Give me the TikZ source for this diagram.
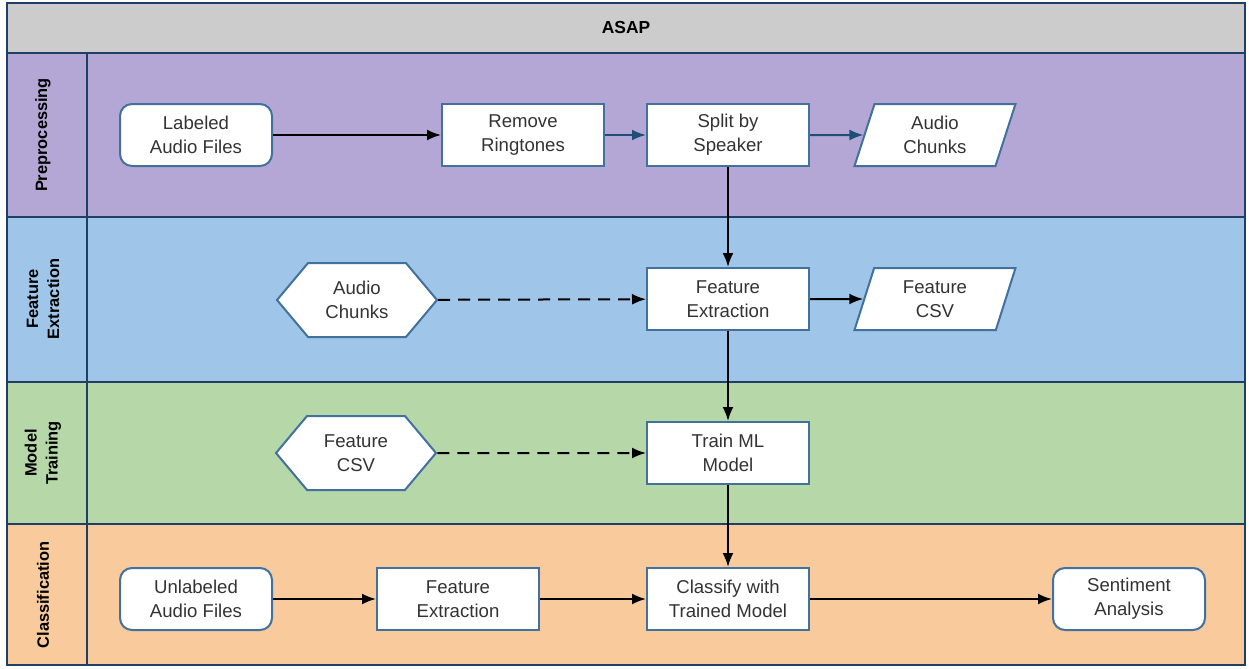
\documentclass[tikz,border=0pt]{standalone}
\usepackage{fontspec}
\setmainfont{Liberation Sans}
\usetikzlibrary{arrows.meta, shapes.geometric, shapes.symbols}

\definecolor{laneline}{HTML}{1F3F66}
\definecolor{nodeline}{HTML}{41719C}
\definecolor{title}{HTML}{CCCCCC}
\definecolor{prep}{HTML}{B4A7D6}
\definecolor{feat}{HTML}{9FC5E8}
\definecolor{train}{HTML}{B6D7A8}
\definecolor{clas}{HTML}{F9CB9C}
\definecolor{bluearrow}{HTML}{1F4E79}
\definecolor{txt}{HTML}{333333}

\begin{document}
\begin{tikzpicture}[x=0.5pt,y=-0.5pt,
    every node/.style={font=\fontsize{9.3}{12}\selectfont, text=txt},
    lane/.style={draw=laneline, line width=1pt},
    lanelabel/.style={rotate=90, align=center, text=black,
      font=\fontsize{8.2}{10.5}\selectfont\bfseries},
    proc/.style={draw=nodeline, line width=1pt, fill=white, align=center,
      minimum width=81pt, minimum height=31pt, inner sep=0pt},
    term/.style={proc, rounded corners=6pt, minimum width=76pt},
    data/.style={proc, trapezium, trapezium left angle=62,
      trapezium right angle=118, trapezium stretches body,
      minimum width=80.5pt},
    hexa/.style={proc, signal, signal to=west and east,
      signal pointer angle=100, minimum width=80pt, minimum height=37pt},
    flow/.style={line width=1pt, -{Latex[length=7pt,width=5.5pt]}},
    flowb/.style={flow, draw=bluearrow},
    dflow/.style={flow, dash pattern=on 6pt off 4pt}]
    \useasboundingbox (0,0) rectangle (1249,669);
    % swim lanes
    \draw[lane, fill=title] (7,3) rectangle (1245,53);
    \draw[lane, fill=prep] (7,53) rectangle (1245,217);
    \draw[lane, fill=feat] (7,217) rectangle (1245,382);
    \draw[lane, fill=train] (7,382) rectangle (1245,524);
    \draw[lane, fill=clas] (7,524) rectangle (1245,665);
    \draw[lane] (87,53) -- (87,665);
    \node[text=black, font=\fontsize{8.7}{10}\selectfont\bfseries] (asap) at (626,28) {ASAP};
    \node[lanelabel] (lprep) at (43,135) {Preprocessing};
    \node[lanelabel] (lfeat) at (43,299) {Feature\\Extraction};
    \node[lanelabel] (ltrain) at (43,453) {Model\\Training};
    \node[lanelabel] (lclas) at (43,595) {Classification};

    % preprocessing
    \node[term] (labeled) at (196,135) {Labeled\\Audio Files};
    \node[proc] (ringtones) at (523,135) {Remove\\Ringtones};
    \node[proc] (split) at (728,135) {Split by\\Speaker};
    \node[data] (chunks) at (935,135) {Audio\\Chunks};

    % feature extraction
    \node[hexa] (chunksin) at (357,300) {Audio\\Chunks};
    \node[proc] (extract) at (728,299) {Feature\\Extraction};
    \node[data] (csv) at (935,299) {Feature\\CSV};

    % model training
    \node[hexa] (csvin) at (356,453) {Feature\\CSV};
    \node[proc] (trainml) at (728,453) {Train ML\\Model};

    % classification
    \node[term] (unlabeled) at (196,599) {Unlabeled\\Audio Files};
    \node[proc] (extract2) at (458,599) {Feature\\Extraction};
    \node[proc] (classify) at (728,599) {Classify with\\Trained Model};
    \node[term] (sentiment) at (1129,599) {Sentiment\\Analysis};

    \draw[flow] (labeled) -- (ringtones);
    \draw[flowb] (ringtones) -- (split);
    \draw[flowb] (split) -- (chunks);
    \draw[flow] (split) -- (extract);
    \draw[dflow] (chunksin) -- (extract);
    \draw[flow] (extract) -- (csv);
    \draw[flow] (extract) -- (trainml);
    \draw[dflow] (csvin) -- (trainml);
    \draw[flow] (trainml) -- (classify);
    \draw[flow] (unlabeled) -- (extract2);
    \draw[flow] (extract2) -- (classify);
    \draw[flow] (classify) -- (sentiment);
\end{tikzpicture}
\end{document}
